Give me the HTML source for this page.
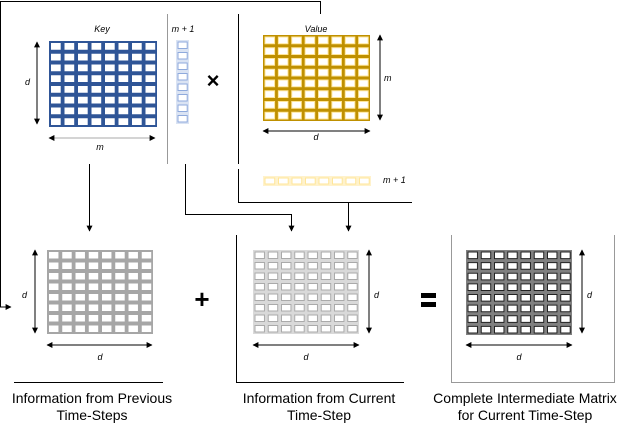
<!DOCTYPE html>
<html><head><meta charset="utf-8"><style>
html,body{margin:0;padding:0;background:#fff;width:622px;height:424px;overflow:hidden}
svg{display:block}
text{font-family:"Liberation Sans",sans-serif}
</style></head><body>
<svg id="s" width="622" height="424" xmlns="http://www.w3.org/2000/svg">
<defs>
<marker id="a" viewBox="0 0 10 10" refX="9" refY="5" markerWidth="6" markerHeight="6" orient="auto-start-reverse"><path d="M0,0L10,5L0,10z" fill="#000"/></marker>
</defs>
<g stroke="#000" stroke-width="1" fill="none">
<polyline points="0.5,307 0.5,1.5 320.5,1.5 320.5,14"/>
<line x1="0" y1="307" x2="11" y2="307" marker-end="url(#a)"/>
<line x1="167.5" y1="14" x2="167.5" y2="164" stroke="#999"/>
<line x1="238.5" y1="14" x2="238.5" y2="164"/>
<polyline points="238.5,169 238.5,202.5 412,202.5"/>
<line x1="348.5" y1="202.5" x2="348.5" y2="231" marker-end="url(#a)"/>
<line x1="89.5" y1="164" x2="89.5" y2="231" marker-end="url(#a)"/>
<polyline points="185.5,164 185.5,214.5 291.5,214.5 291.5,231" marker-end="url(#a)"/>
<line x1="14" y1="382.5" x2="163" y2="382.5"/>
<polyline points="236.5,235 236.5,382.5 404,382.5"/>
<polyline points="451.5,235 451.5,382.5 614.5,382.5 614.5,235" stroke="#999"/>
<line x1="37" y1="42" x2="37" y2="124" marker-start="url(#a)" marker-end="url(#a)"/>
<line x1="49" y1="138" x2="155" y2="138" stroke="#aaa" marker-start="url(#a)" marker-end="url(#a)"/>
<line x1="380" y1="35" x2="380" y2="120" marker-start="url(#a)" marker-end="url(#a)"/>
<line x1="263" y1="131" x2="370" y2="131" marker-start="url(#a)" marker-end="url(#a)"/>
<line x1="35" y1="250" x2="35" y2="333" marker-start="url(#a)" marker-end="url(#a)"/>
<line x1="47" y1="345" x2="152" y2="345" marker-start="url(#a)" marker-end="url(#a)"/>
<line x1="369" y1="250" x2="369" y2="333" marker-start="url(#a)" marker-end="url(#a)"/>
<line x1="253" y1="345" x2="359" y2="345" marker-start="url(#a)" marker-end="url(#a)"/>
<line x1="582" y1="250" x2="582" y2="333" marker-start="url(#a)" marker-end="url(#a)"/>
<line x1="466" y1="345" x2="572" y2="345" marker-start="url(#a)" marker-end="url(#a)"/>
</g>
<g id="m"></g>
<g font-style="italic" font-size="9" fill="#000">
<text x="102" y="32" text-anchor="middle">Key</text>
<text x="183" y="32" text-anchor="middle">m + 1</text>
<text x="316" y="32" text-anchor="middle">Value</text>
<text x="25" y="85">d</text>
<text x="100" y="150" text-anchor="middle">m</text>
<text x="384" y="81">m</text>
<text x="316" y="140" text-anchor="middle">d</text>
<text x="383" y="183">m + 1</text>
<text x="22" y="298">d</text>
<text x="100" y="360" text-anchor="middle">d</text>
<text x="374" y="298">d</text>
<text x="306" y="360" text-anchor="middle">d</text>
<text x="587" y="298">d</text>
<text x="519" y="360" text-anchor="middle">d</text>
</g>
<text x="213" y="88" font-size="22" font-weight="bold" text-anchor="middle">×</text>
<text x="202" y="308" font-size="26" font-weight="bold" text-anchor="middle">+</text>
<rect x="421" y="293" width="15" height="5" fill="#000"/>
<rect x="421" y="302" width="15" height="5" fill="#000"/>
<g font-size="14" fill="#000" text-anchor="middle">
<text x="92" y="403">Information from Previous</text>
<text x="92" y="420">Time-Steps</text>
<text x="319" y="403">Information from Current</text>
<text x="319" y="420">Time-Step</text>
<text x="525" y="403">Complete Intermediate Matrix</text>
<text x="525" y="420">for Current Time-Step</text>
</g>
</svg>
<script>
var g=document.getElementById('m'),ns='http://www.w3.org/2000/svg';
function r(x,y,w,h,f,s){var e=document.createElementNS(ns,'rect');e.setAttribute('x',x);e.setAttribute('y',y);e.setAttribute('width',w);e.setAttribute('height',h);e.setAttribute('fill',f);if(s){e.setAttribute('stroke',s);e.setAttribute('stroke-width','1');}g.appendChild(e);}
function mat(x,y,w,h,cols,rows,bg,inner,st){r(x,y,w,h,bg);var cw=w/cols,ch=h/rows;for(var i=0;i<cols;i++)for(var j=0;j<rows;j++){var ix=x+i*cw+2,iy=y+j*ch+2;r(ix,iy,cw-3.8,ch-4,inner,st);}}
mat(49,41,108,86,8,8,'#2f5597','#fff');
mat(176,40,13,84,1,8,'#dae3f3','#fff','#8faadc');
mat(263,35,107,86,8,8,'#bf9000','#fff','#ffe699');
mat(263,176,108,10,8,1,'#fff2cc','#fff','#ffe699');
mat(47,250,106,84,8,8,'#a6a6a6','#fff');
mat(253,250,106,84,8,8,'#d9d9d9','#fff','#aaa');
mat(466,250,106,85,8,8,'#808080','#fff','#222');
</script>
</body></html>
